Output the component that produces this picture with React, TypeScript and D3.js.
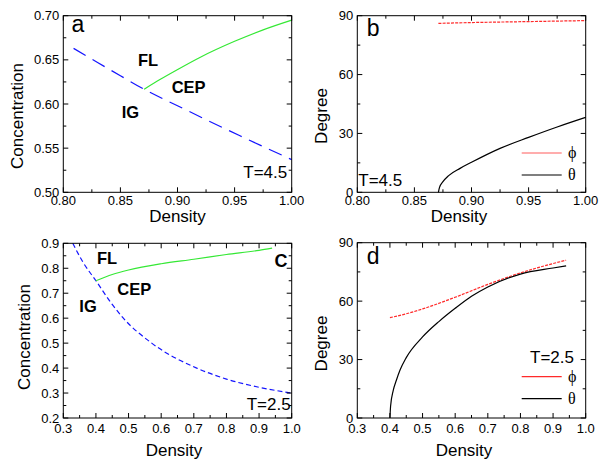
import React from "react";
import * as d3 from "d3";

// ---- data ----
const aBlueX = [0.809, 0.83, 0.85, 0.8707, 0.9, 0.9547, 1.0];
const aBlueY = [0.663, 0.647, 0.632, 0.6167, 0.598, 0.564, 0.537];
const aGreenX = [0.8707, 0.885, 0.9, 0.92, 0.95, 0.975, 1.0];
const aGreenY = [0.6167, 0.628, 0.639, 0.653, 0.671, 0.684, 0.695];

const bPhiX = [0.871, 0.9, 0.95, 1.0];
const bPhiY = [86.1, 86.5, 87.0, 87.5];
const bThetaX = [0.871, 0.872, 0.875, 0.88, 0.89, 0.9, 0.925, 0.95, 0.975, 1.0];
const bThetaY = [0, 2.5, 5.4, 8.5, 12.2, 15.3, 22.4, 28.0, 33.3, 38.2];

const cBlueX = [0.329, 0.36, 0.4, 0.45, 0.484, 0.571, 0.709, 0.8, 0.9, 1.0];
const cBlueY = [0.9, 0.825, 0.75, 0.655, 0.6, 0.5, 0.4, 0.356, 0.323, 0.3];
const cGreenX = [0.4, 0.45, 0.5, 0.6, 0.7, 0.8, 0.9, 0.94];
const cGreenY = [0.75, 0.775, 0.793, 0.818, 0.836, 0.855, 0.872, 0.881];

const dPhiX = [0.4, 0.45, 0.5, 0.6, 0.7, 0.8, 0.9, 0.94];
const dPhiY = [51.5, 53.5, 56.0, 62.0, 68.6, 74.5, 79.3, 81.0];
const dThetaX = [0.4, 0.402, 0.41, 0.42, 0.431, 0.45, 0.5, 0.55, 0.6, 0.65, 0.7, 0.8, 0.9, 0.94];
const dThetaY = [0, 6, 14, 19.5, 24.6, 31, 41.6, 49.5, 56.3, 62.5, 67.3, 73.9, 77, 78.1];

const abXTicks = [0.8, 0.85, 0.9, 0.95, 1.0];
const aYTicks = [0.5, 0.55, 0.6, 0.65, 0.7];
const degTicks = [0, 30, 60, 90];
const cdXTicks = [0.3, 0.4, 0.5, 0.6, 0.7, 0.8, 0.9, 1.0];
const cYTicks = [0.2, 0.3, 0.4, 0.5, 0.6, 0.7, 0.8, 0.9];

const FONT = "Liberation Sans, Arial, sans-serif";
const BLUE = "#1414ff";
const GREEN = "#35e835";
const RED = "#ff2a2a";

type Series = { xs: number[]; ys: number[]; color: string; dash?: string; width?: number };

type PanelProps = {
  box: [number, number, number, number]; // left, right, top, bottom
  xDomain: [number, number];
  yDomain: [number, number];
  xTicks: number[];
  yTicks: number[];
  xFmt: (v: number) => string;
  yFmt: (v: number) => string;
  series: Series[];
  yTitle: string;
  yTitleX: number;
  yTitleY: number;
  xTitleX: number;
  xTitleY: number;
  xLabelOff: number;
  children?: React.ReactNode;
};

function Panel(p: PanelProps) {
  const [l, r, t, b] = p.box;
  const x = d3.scaleLinear().domain(p.xDomain).range([l, r]);
  const y = d3.scaleLinear().domain(p.yDomain).range([b, t]);
  const xMinor: number[] = [];
  for (let i = 0; i < p.xTicks.length - 1; i++) xMinor.push((p.xTicks[i] + p.xTicks[i + 1]) / 2);
  const yMinor: number[] = [];
  for (let i = 0; i < p.yTicks.length - 1; i++) yMinor.push((p.yTicks[i] + p.yTicks[i + 1]) / 2);
  const MAJ = 5, MIN = 3;
  const line = d3.line<[number, number]>().x((d) => x(d[0])).y((d) => y(d[1])).curve(d3.curveMonotoneX);
  return (
    <g>
      {p.series.map((s, i) => (
        <path
          key={i}
          d={line(s.xs.map((v, j) => [v, s.ys[j]] as [number, number])) || ""}
          fill="none"
          stroke={s.color}
          strokeWidth={s.width ?? 1.2}
          strokeDasharray={s.dash}
        />
      ))}
      <rect x={l} y={t} width={r - l} height={b - t} fill="none" stroke="#000" strokeWidth={1} />
      {p.xTicks.map((v) => (
        <g key={"xt" + v}>
          <line x1={x(v)} x2={x(v)} y1={b} y2={b - MAJ} stroke="#000" />
          <line x1={x(v)} x2={x(v)} y1={t} y2={t + MAJ} stroke="#000" />
          <text x={x(v)} y={b + p.xLabelOff} textAnchor="middle" fontSize={13} fontFamily={FONT}>
            {p.xFmt(v)}
          </text>
        </g>
      ))}
      {xMinor.map((v) => (
        <g key={"xm" + v}>
          <line x1={x(v)} x2={x(v)} y1={b} y2={b - MIN} stroke="#000" />
          <line x1={x(v)} x2={x(v)} y1={t} y2={t + MIN} stroke="#000" />
        </g>
      ))}
      {p.yTicks.map((v) => (
        <g key={"yt" + v}>
          <line x1={l} x2={l + MAJ} y1={y(v)} y2={y(v)} stroke="#000" />
          <line x1={r} x2={r - MAJ} y1={y(v)} y2={y(v)} stroke="#000" />
          <text x={l - 4} y={y(v) + 4.5} textAnchor="end" fontSize={13} fontFamily={FONT}>
            {p.yFmt(v)}
          </text>
        </g>
      ))}
      {yMinor.map((v) => (
        <g key={"ym" + v}>
          <line x1={l} x2={l + MIN} y1={y(v)} y2={y(v)} stroke="#000" />
          <line x1={r} x2={r - MIN} y1={y(v)} y2={y(v)} stroke="#000" />
        </g>
      ))}
      <text x={p.xTitleX} y={p.xTitleY} textAnchor="middle" fontSize={17} fontFamily={FONT}>
        Density
      </text>
      <text
        transform={`translate(${p.yTitleX},${p.yTitleY}) rotate(-90)`}
        textAnchor="middle"
        fontSize={17}
        fontFamily={FONT}
      >
        {p.yTitle}
      </text>
      {p.children}
    </g>
  );
}

const f2 = (v: number) => v.toFixed(2);
const f1 = (v: number) => v.toFixed(1);
const f0 = (v: number) => String(v);

function Legend({ yPhi, yTheta, phiColor }: { yPhi: number; yTheta: number; phiColor: string }) {
  return (
    <g>
      <line x1={521.7} x2={561.7} y1={yPhi} y2={yPhi} stroke={phiColor} strokeWidth={1.2} />
      <text x={568} y={yPhi + 5} fontSize={16} fontFamily="Liberation Serif, serif">ϕ</text>
      <line x1={521.7} x2={561.7} y1={yTheta} y2={yTheta} stroke="#000" strokeWidth={1.2} />
      <text x={568} y={yTheta + 5} fontSize={16} fontFamily="Liberation Serif, serif">θ</text>
    </g>
  );
}

export default function App() {
  const bold = { fontSize: 16.5, fontWeight: 700, fontFamily: FONT } as const;
  return (
    <svg
      width={600}
      height={462}
      style={{ position: "absolute", left: 0, top: 0, display: "block", background: "#fff" }}
    >
      <rect width={600} height={462} fill="#fff" />
      {/* panel a */}
      <Panel
        box={[63.3, 291.7, 15.7, 192.3]}
        xDomain={[0.8, 1.0]}
        yDomain={[0.5, 0.7]}
        xTicks={abXTicks}
        yTicks={aYTicks}
        xFmt={f2}
        yFmt={f2}
        series={[
          { xs: aBlueX, ys: aBlueY, color: BLUE, dash: "14,8" },
          { xs: aGreenX, ys: aGreenY, color: GREEN },
        ]}
        yTitle="Concentration"
        yTitleX={22.5}
        yTitleY={116}
        xTitleX={177.5}
        xTitleY={221.7}
        xLabelOff={13}
      >
        <text x={71.5} y={32} fontSize={23} fontFamily={FONT}>a</text>
        <text x={138} y={66} {...bold}>FL</text>
        <text x={171.7} y={92.7} {...bold}>CEP</text>
        <text x={121.7} y={118.3} {...bold}>IG</text>
        <text x={243.3} y={178.3} fontSize={17} fontFamily={FONT}>T=4.5</text>
      </Panel>
      {/* panel b */}
      <Panel
        box={[357.3, 585.7, 15.7, 192.3]}
        xDomain={[0.8, 1.0]}
        yDomain={[0, 90]}
        xTicks={abXTicks}
        yTicks={degTicks}
        xFmt={f2}
        yFmt={f0}
        series={[
          { xs: bPhiX, ys: bPhiY, color: RED, dash: "3,1.2" },
          { xs: bThetaX, ys: bThetaY, color: "#000" },
        ]}
        yTitle="Degree"
        yTitleX={326.5}
        yTitleY={116}
        xTitleX={459}
        xTitleY={221.7}
        xLabelOff={13}
      >
        <text x={366.7} y={36} fontSize={23} fontFamily={FONT}>b</text>
        <text x={358.3} y={185.7} fontSize={17} fontFamily={FONT}>T=4.5</text>
        <Legend yPhi={153} yTheta={175} phiColor="#ff5c5c" />
      </Panel>
      {/* panel c */}
      <Panel
        box={[63.3, 291.7, 243.3, 418]}
        xDomain={[0.3, 1.0]}
        yDomain={[0.2, 0.9]}
        xTicks={cdXTicks}
        yTicks={cYTicks}
        xFmt={f1}
        yFmt={f1}
        series={[
          { xs: cBlueX, ys: cBlueY, color: BLUE, dash: "5,3" },
          { xs: cGreenX, ys: cGreenY, color: GREEN },
        ]}
        yTitle="Concentration"
        yTitleX={30}
        yTitleY={337}
        xTitleX={174}
        xTitleY={456}
        xLabelOff={15}
      >
        <text x={97} y={264} {...bold}>FL</text>
        <text x={117.3} y={295} {...bold}>CEP</text>
        <text x={79.3} y={311.7} {...bold}>IG</text>
        <text x={274.5} y={266.7} fontSize={18} fontWeight={700} fontFamily={FONT}>C</text>
        <text x={246.7} y={410} fontSize={17} fontFamily={FONT}>T=2.5</text>
      </Panel>
      {/* panel d */}
      <Panel
        box={[357.3, 585.7, 242.7, 418]}
        xDomain={[0.3, 1.0]}
        yDomain={[0, 90]}
        xTicks={cdXTicks}
        yTicks={degTicks}
        xFmt={f1}
        yFmt={f0}
        series={[
          { xs: dPhiX, ys: dPhiY, color: RED, dash: "3,1.2" },
          { xs: dThetaX, ys: dThetaY, color: "#000" },
        ]}
        yTitle="Degree"
        yTitleX={326.5}
        yTitleY={343.5}
        xTitleX={464}
        xTitleY={456}
        xLabelOff={15}
      >
        <text x={366.7} y={264.3} fontSize={23} fontFamily={FONT}>d</text>
        <text x={530} y={362.7} fontSize={17} fontFamily={FONT}>T=2.5</text>
        <Legend yPhi={376.7} yTheta={398.7} phiColor={RED} />
      </Panel>
    </svg>
  );
}
